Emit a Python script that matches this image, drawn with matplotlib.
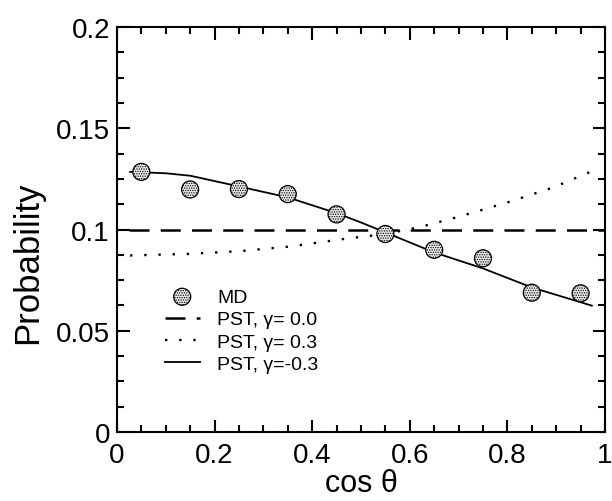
import numpy as np
import matplotlib
matplotlib.use('Agg')
import matplotlib.pyplot as plt
from matplotlib.ticker import MultipleLocator

plt.rcParams['font.family'] = ['Liberation Sans', 'DejaVu Sans']
plt.rcParams['hatch.linewidth'] = 0.6

# MD data
md_x = [0.05, 0.15, 0.25, 0.35, 0.45, 0.55, 0.65, 0.75, 0.85, 0.95]
md_y = [0.1285, 0.1198, 0.1200, 0.1175, 0.1075, 0.0978, 0.0900, 0.0858, 0.0688, 0.0685]

# PST curves
pst0_x = [0.025, 1.0]
pst0_y = [0.100, 0.100]

pst_pos_x = [0.027, 0.15, 0.25, 0.35, 0.47, 0.55, 0.624, 0.703, 0.80, 0.894, 0.97]
pst_pos_y = [0.0872, 0.0880, 0.0893, 0.0915, 0.0955, 0.0978, 0.1014, 0.1065, 0.1134, 0.1208, 0.1285]

pst_neg_x = [0.027, 0.10, 0.15, 0.25, 0.35, 0.45, 0.50, 0.55, 0.65, 0.75, 0.85, 0.973]
pst_neg_y = [0.1285, 0.1278, 0.1266, 0.1213, 0.1159, 0.1081, 0.1035, 0.0986, 0.0887, 0.0808, 0.0714, 0.0624]

xticks = [0, 0.2, 0.4, 0.6, 0.8, 1.0]
xticklabels = ['0', '0.2', '0.4', '0.6', '0.8', '1']
yticks = [0, 0.05, 0.1, 0.15, 0.2]
yticklabels = ['0', '0.05', '0.1', '0.15', '0.2']

fig = plt.figure(figsize=(6.12, 5.02), dpi=100)
ax = fig.add_axes([0.191, 0.1375, 0.7976, 0.8065])

ax.scatter(md_x, md_y, s=150, facecolor='#e8e8e8', edgecolor='black', hatch='.......',
           linewidth=0.9, zorder=3, label='MD')
ax.plot(pst0_x, pst0_y, color='black', linestyle=(0, (8, 4.5)), linewidth=1.8, label='PST, γ= 0.0')
ax.plot(pst_pos_x, pst_pos_y, color='black', linestyle=(0, (1, 5)), linewidth=1.7, label='PST, γ= 0.3')
ax.plot(pst_neg_x, pst_neg_y, color='black', linestyle='-', linewidth=1.3, label='PST, γ=-0.3')

ax.set_xlim(0, 1)
ax.set_ylim(0, 0.2)
ax.xaxis.set_minor_locator(MultipleLocator(0.05))
ax.yaxis.set_minor_locator(MultipleLocator(0.0125))
ax.set_xticks(xticks)
ax.set_xticklabels(xticklabels)
ax.set_yticks(yticks)
ax.set_yticklabels(yticklabels)

ax.tick_params(which='both', direction='in', top=True, right=True, labelsize=20, width=1.5)
ax.tick_params(which='major', length=9)
ax.tick_params(axis='x', which='major', pad=7)
ax.tick_params(axis='y', which='major', pad=5)
ax.tick_params(which='minor', length=5)
for s in ax.spines.values():
    s.set_linewidth(1.5)

ax.set_xlabel('cos θ', fontsize=22, labelpad=0)
ax.set_ylabel('Probability', fontsize=25)
ax.yaxis.set_label_coords(-0.15, 0.42)

ax.legend(loc='upper left', bbox_to_anchor=(0.098, 0.355), frameon=False, fontsize=14,
          borderpad=0, borderaxespad=0, handlelength=1.8, handletextpad=0.9,
          labelspacing=0.25, scatterpoints=1)

fig.savefig('out.png', dpi=100)
